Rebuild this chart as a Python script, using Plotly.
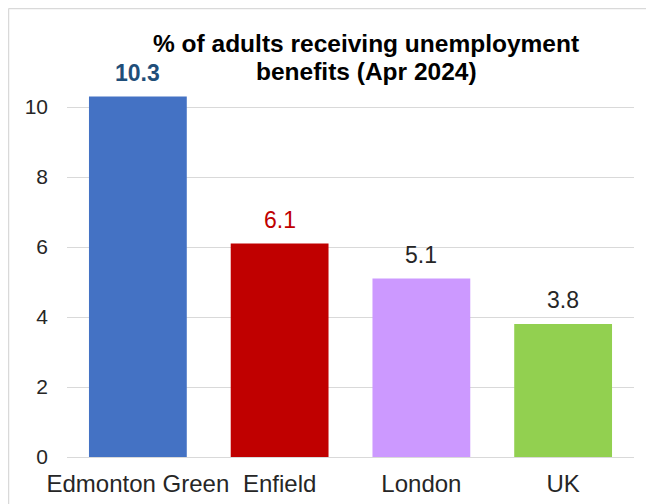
import plotly.graph_objects as go

categories = ["Edmonton Green", "Enfield", "London", "UK"]
values = [10.3, 6.1, 5.1, 3.8]
bar_colors = ["#4472C4", "#C00000", "#CC99FF", "#92D050"]
label_colors = ["#1F4E79", "#C00000", "#262626", "#262626"]
label_bold = [True, False, False, False]
y_ticks = [0, 2, 4, 6, 8, 10]
title_lines = ["% of adults receiving unemployment", "benefits (Apr 2024)"]

FONT = "Liberation Sans, Arial, sans-serif"

# figure sits at the page's 8px body offset
W, H = 646, 496
L, R, T, B = 59, 20, 64, 47
pw, ph = W - L - R, H - T - B


def px_x(px):
    return (px - L) / pw


def px_y(py):
    return (H - B - py) / ph


fig = go.Figure()
fig.add_trace(go.Bar(
    x=categories, y=values,
    marker=dict(color=bar_colors, line=dict(width=0)),
    hoverinfo="skip",
))

for cat, v, col, bold in zip(categories, values, label_colors, label_bold):
    txt = f"{v:.1f}"
    fig.add_annotation(
        x=cat, y=v, xref="x", yref="y",
        text=f"<b>{txt}</b>" if bold else txt,
        showarrow=False, yanchor="bottom", yshift=9,
        font=dict(family=FONT, size=23, color=col),
    )

# chart-area border (top and left edges visible in the window)
border = dict(color="#D9D9D9", width=1.5)
fig.add_shape(type="line", xref="paper", yref="paper",
              x0=px_x(0.5), x1=px_x(W), y0=px_y(0.5), y1=px_y(0.5),
              line=border, layer="below")
fig.add_shape(type="line", xref="paper", yref="paper",
              x0=px_x(0.5), x1=px_x(0.5), y0=px_y(H), y1=px_y(0.5),
              line=border, layer="below")

for line, ycen in zip(title_lines, [35, 63]):
    fig.add_annotation(text="<b>" + line + "</b>", xref="paper", yref="paper",
                       x=px_x(358), y=px_y(ycen), xanchor="center",
                       yanchor="middle", showarrow=False,
                       font=dict(family=FONT, size=24.5, color="#000000"))

fig.update_layout(
    width=W, height=H,
    margin=dict(l=L, r=R, t=T, b=B, autoexpand=False),
    paper_bgcolor="white", plot_bgcolor="white",
    bargap=0.31,
    showlegend=False,
    font=dict(family=FONT, color="#262626"),
    xaxis=dict(showgrid=False, showline=False, ticks="", automargin=False,
               ticklabelstandoff=10,
               tickfont=dict(family=FONT, size=24, color="#262626")),
    yaxis=dict(range=[0, 11], tickvals=y_ticks, showgrid=True, automargin=False,
               gridcolor="#D9D9D9", gridwidth=1, zeroline=True,
               zerolinecolor="#D9D9D9", zerolinewidth=1, showline=False,
               ticks="", ticklabelstandoff=18,
               tickfont=dict(family=FONT, size=21, color="#262626")),
)

fig.write_html("out.html")
